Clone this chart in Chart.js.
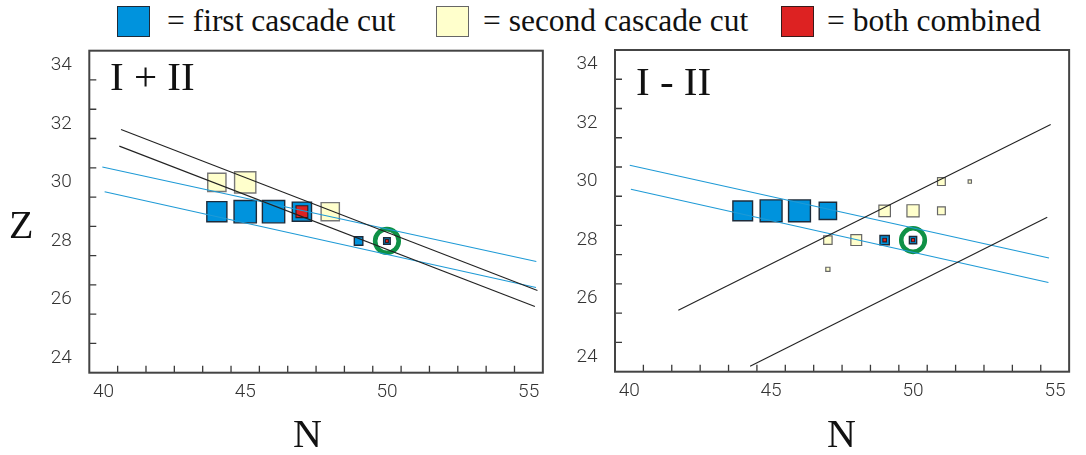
<!DOCTYPE html>
<html lang="en">
<head>
<meta charset="UTF-8">
<title>Cascade cuts N-Z</title>
<script src="https://cdn.jsdelivr.net/npm/chart.js@4/dist/chart.umd.min.js"></script>
<style>
    body {
        margin: 0;
        width: 1086px;
        height: 455px;
        position: relative;
        overflow: hidden;
        background: #fff;
    }
    canvas {
        position: absolute;
        top: 0;
    }
    .txt {
        position: absolute;
        font-family: 'Liberation Serif', 'Times New Roman', serif;
        line-height: 1;
        white-space: nowrap;
        color: #111;
    }
    .swatch {
        position: absolute;
        box-sizing: border-box;
        width: 33px;
        height: 31px;
        top: 6px;
        border: 1.5px solid #333;
    }
</style>
</head>
<body>
    <div class="swatch" style="left:117px;background:#0093dd;border-color:#1d2b3a"></div>
    <div class="txt" style="left:167px;top:5px;font-size:31.5px">= first cascade cut</div>
    <div class="swatch" style="left:436px;background:#ffffcc;border-color:#666"></div>
    <div class="txt" style="left:483px;top:5px;font-size:31.5px">= second cascade cut</div>
    <div class="swatch" style="left:781px;background:#dd2222;border-color:#3a1a1a"></div>
    <div class="txt" style="left:827px;top:5px;font-size:31.5px">= both combined</div>

    <canvas id="sumChart" width="560" height="455" style="left:0"></canvas>
    <canvas id="diffChart" width="526" height="455" style="left:560px"></canvas>

    <div class="txt" style="left:110px;top:56px;font-size:41px">I + II</div>
    <div class="txt" style="left:636px;top:61px;font-size:41px">I - II</div>
    <div class="txt" style="left:9px;top:205px;font-size:40px">Z</div>
    <div class="txt" style="left:293px;top:414px;font-size:40px">N</div>
    <div class="txt" style="left:827px;top:414px;font-size:40px">N</div>

<script>
// axes: labelled values and the small unlabelled marks in between
const nLabels = [40, 45, 50, 55];
const zLabels = [24, 26, 28, 30, 32, 34];
const nMarks = [40.5, 41.5, 42.5, 43.5, 44.5, 45.5, 46.5, 47.5, 48.5, 49.5, 50.5, 51.5, 52.5, 53.5, 54.5];
const zMarks = [24.5, 25.5, 26.5, 27.5, 28.5, 29.5, 30.5, 31.5, 32.5, 33.5];

// I + II
const sumFirstN = [44, 45, 46, 47, 49, 50];
const sumFirstZ = [29, 29, 29, 29, 28, 28];
const sumFirstYield = [0.80, 0.975, 0.975, 0.74, 0.17, 0.11];
const sumSecondN = [44, 45, 48];
const sumSecondZ = [30, 30, 29];
const sumSecondYield = [0.67, 0.89, 0.67];
const sumBothN = [47, 50];
const sumBothZ = [29, 28];
const sumBothYield = [0.29, 0.028];
const sumBlackLines = [
    [[40.62, 31.81], [55.31, 26.31]],
    [[40.56, 31.24], [55.22, 25.76]]
];
const sumBlueLines = [
    [[39.96, 30.53], [55.27, 27.30]],
    [[40.04, 29.68], [55.26, 26.41]]
];

// I - II
const diffFirstN = [44, 45, 46, 47, 49, 50];
const diffFirstZ = [29, 29, 29, 29, 28, 28];
const diffFirstYield = [0.77, 0.94, 0.94, 0.61, 0.20, 0.13];
const diffSecondN = [49, 50, 51, 51, 52, 47, 48, 47];
const diffSecondZ = [29, 29, 29, 30, 30, 28, 28, 27];
const diffSecondYield = [0.28, 0.31, 0.14, 0.14, 0.035, 0.16, 0.25, 0.05];
const diffBothN = [49, 50];
const diffBothZ = [28, 28];
const diffBothYield = [0.038, 0.032];
const diffBlackLines = [
    [[41.73, 25.60], [54.85, 31.95]],
    [[44.26, 23.69], [54.73, 28.78]]
];
const diffBlueLines = [
    [[40.02, 30.56], [54.79, 27.39]],
    [[40.06, 29.74], [54.77, 26.55]]
];

// nucleus marked with the circle (both panels)
const markedN = [50];
const markedZ = [28];

const BLUE = '#0093dd', YELLOW = '#ffffcc', RED = '#dd2222', GREEN = '#0f9146';

function points(ns, zs) {
    return ns.map((n, i) => ({ x: n, y: zs[i] }));
}

// square side grows with sqrt of the yield; pointRadius for 'rect' is side / sqrt(2)
function radii(yields, bw) {
    return yields.map(y => Math.max(24 * Math.sqrt(y) - bw, 1) / Math.SQRT2);
}

function squares(ns, zs, yields, fill, edge, bw, order) {
    return {
        data: points(ns, zs),
        pointStyle: 'rect',
        pointRadius: radii(yields, bw),
        backgroundColor: fill,
        borderColor: edge,
        borderWidth: bw,
        showLine: false,
        order: order
    };
}

function lines(list, color) {
    return list.map(seg => ({
        data: seg.map(p => ({ x: p[0], y: p[1] })),
        showLine: true,
        pointRadius: 0,
        borderColor: color,
        borderWidth: 1.1,
        fill: false,
        order: 0
    }));
}

// box round the plot plus inward tick marks
const framePlugin = {
    id: 'frame',
    afterDraw(chart) {
        const { ctx, chartArea: a, scales } = chart;
        ctx.save();
        ctx.strokeStyle = '#3a3a3a';
        ctx.lineWidth = 1.3;
        ctx.beginPath();
        nMarks.forEach(v => {
            const px = scales.x.getPixelForValue(v);
            ctx.moveTo(px, a.bottom);
            ctx.lineTo(px, a.bottom - 7);
        });
        zMarks.forEach(v => {
            const py = scales.y.getPixelForValue(v);
            ctx.moveTo(a.left, py);
            ctx.lineTo(a.left + 7, py);
        });
        ctx.stroke();
        ctx.strokeStyle = '#444';
        ctx.lineWidth = 2;
        ctx.strokeRect(a.left, a.top, a.right - a.left, a.bottom - a.top);
        ctx.restore();
    }
};

const tickFont = { family: 'Roboto', size: 19, weight: 300 };

function makeChart(id, pad, yWidth, sets) {
    return new Chart(document.getElementById(id), {
        type: 'scatter',
        data: { datasets: sets },
        options: {
            responsive: false,
            animation: false,
            layout: { padding: pad },
            plugins: { legend: { display: false }, tooltip: { enabled: false } },
            scales: {
                x: {
                    type: 'linear',
                    min: 39.5,
                    max: 55.5,
                    afterBuildTicks: s => { s.ticks = nLabels.map(v => ({ value: v })); },
                    afterFit: s => { s.height = 40; },
                    grid: { display: false, drawTicks: false },
                    border: { display: false },
                    ticks: { font: tickFont, color: '#333', padding: 8, maxRotation: 0, autoSkip: false }
                },
                y: {
                    type: 'linear',
                    min: 23.5,
                    max: 34.5,
                    afterBuildTicks: s => { s.ticks = zLabels.map(v => ({ value: v })); },
                    afterFit: s => { s.width = yWidth; },
                    grid: { display: false, drawTicks: false },
                    border: { display: false },
                    ticks: { font: tickFont, color: '#333', padding: 17.5, autoSkip: false }
                }
            }
        },
        plugins: [framePlugin]
    });
}

function circleSet() {
    return {
        data: points(markedN, markedZ),
        pointStyle: 'circle',
        pointRadius: 11.8,
        borderWidth: 4.6,
        borderColor: GREEN,
        backgroundColor: 'rgba(0,0,0,0)',
        showLine: false,
        order: 1
    };
}

makeChart('sumChart', { top: 50.7, right: 5, bottom: 42.3, left: 0 }, 89.3, [
    ...lines(sumBlackLines, '#222'),
    ...lines(sumBlueLines, '#1e9ad6'),
    circleSet(),
    squares(sumBothN, sumBothZ, sumBothYield, RED, '#3a1a1a', 1.1, 2),
    squares(sumFirstN, sumFirstZ, sumFirstYield, BLUE, '#1d2b3a', 1.4, 3),
    squares(sumSecondN, sumSecondZ, sumSecondYield, YELLOW, '#777', 1.4, 4)
]);

makeChart('diffChart', { top: 50, right: 5, bottom: 43.3, left: 0 }, 55, [
    ...lines(diffBlackLines, '#222'),
    ...lines(diffBlueLines, '#1e9ad6'),
    circleSet(),
    squares(diffBothN, diffBothZ, diffBothYield, RED, '#3a1a1a', 1.1, 2),
    squares(diffFirstN, diffFirstZ, diffFirstYield, BLUE, '#1d2b3a', 1.4, 3),
    squares(diffSecondN, diffSecondZ, diffSecondYield, YELLOW, '#666', 1.2, 4)
]);
</script>
</body>
</html>
